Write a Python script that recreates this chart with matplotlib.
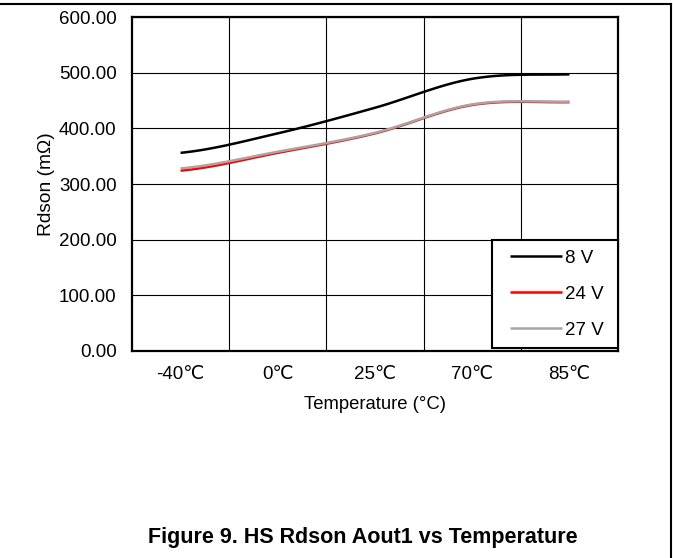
import matplotlib.pyplot as plt
from matplotlib.lines import Line2D
from matplotlib.legend_handler import HandlerLine2D
import numpy as np

plt.rcParams['font.family'] = ['Liberation Sans', 'DejaVu Sans']

temps = ["-40℃", "0℃", "25℃", "70℃", "85℃"]
rds_8v = [356, 391, 437, 489, 497]
rds_24v = [324, 356, 391, 442, 447]
rds_27v = [328, 358, 392, 443, 448]

series = [("8 V", rds_8v, "black"),
          ("24 V", rds_24v, "#ff0000"),
          ("27 V", rds_27v, "#a6a6a6")]


def smooth(xs, ys, n=30):
    # catmull-rom style smoothing like Excel's "smoothed line"
    xs = np.asarray(xs, float)
    ys = np.asarray(ys, float)
    px = np.concatenate([[2 * xs[0] - xs[1]], xs, [2 * xs[-1] - xs[-2]]])
    py = np.concatenate([[ys[0]], ys, [ys[-1]]])
    ox, oy = [], []
    for i in range(1, len(px) - 2):
        t = np.linspace(0, 1, n)
        x0, x1, x2, x3 = px[i - 1:i + 3]
        y0, y1, y2, y3 = py[i - 1:i + 3]
        c1x, c1y = x1 + (x2 - x0) / 6, y1 + (y2 - y0) / 6
        c2x, c2y = x2 - (x3 - x1) / 6, y2 - (y3 - y1) / 6
        bx = (1 - t)**3 * x1 + 3 * (1 - t)**2 * t * c1x + 3 * (1 - t) * t**2 * c2x + t**3 * x2
        by = (1 - t)**3 * y1 + 3 * (1 - t)**2 * t * c1y + 3 * (1 - t) * t**2 * c2y + t**3 * y2
        ox.extend(bx)
        oy.extend(by)
    return np.array(ox), np.array(oy)


fig = plt.figure(figsize=(6.73, 5.58), dpi=100)
ax = fig.add_axes([0.1961, 0.371, 0.7222, 0.5985])

x = np.arange(len(temps))
for label, vals, col in series:
    sx, sy = smooth(x, vals)
    ax.plot(sx, sy, color=col, lw=1.8, label=label, solid_capstyle='butt')

ax.set_xlim(-0.5, len(temps) - 0.5)
ax.set_ylim(0, 600)
ax.set_xticks(x)
ax.set_xticklabels(temps)
ax.set_xticks(np.arange(0.5, len(temps) - 0.5, 1), minor=True)
ax.set_yticks(np.arange(0, 601, 100))
ax.set_yticklabels([f"{v:.2f}" for v in range(0, 601, 100)])
ax.grid(True, axis='y', color='black', lw=0.8)
ax.grid(True, axis='x', which='minor', color='black', lw=0.8)
ax.tick_params(axis='both', which='both', length=0, labelsize=13.5)
ax.tick_params(axis='y', pad=11)
ax.tick_params(axis='x', pad=11)
for s in ax.spines.values():
    s.set_linewidth(1.6)
ax.set_axisbelow(True)

ax.set_xlabel("Temperature (°C)", fontsize=13.3, labelpad=9)
ax.set_ylabel("Rdson (mΩ)", fontsize=13.8, labelpad=3)

leg = ax.legend(loc='lower left', bbox_to_anchor=(0.741, 0.009, 0.259, 0.3),
                mode='expand', fontsize=13.5,
                frameon=True, fancybox=False, edgecolor='black',
                handler_map={Line2D: HandlerLine2D(xpad=0.43)},
                handlelength=3.2, handletextpad=0.2, labelspacing=1.0,
                borderpad=0.5, borderaxespad=0)
leg.get_frame().set_linewidth(1.5)
leg.get_frame().set_alpha(1)

fig.text(0.539, 0.036, "Figure 9. HS Rdson Aout1 vs Temperature",
         fontsize=15.5, fontweight='bold', ha='center', va='center')

# outer table border (top and right edges)
fig.add_artist(Line2D([0, 0.997], [0.993, 0.993], transform=fig.transFigure, color='black', lw=1.5))
fig.add_artist(Line2D([0.997, 0.997], [0, 0.993], transform=fig.transFigure, color='black', lw=1.5))

fig.savefig("out.png", dpi=100)
